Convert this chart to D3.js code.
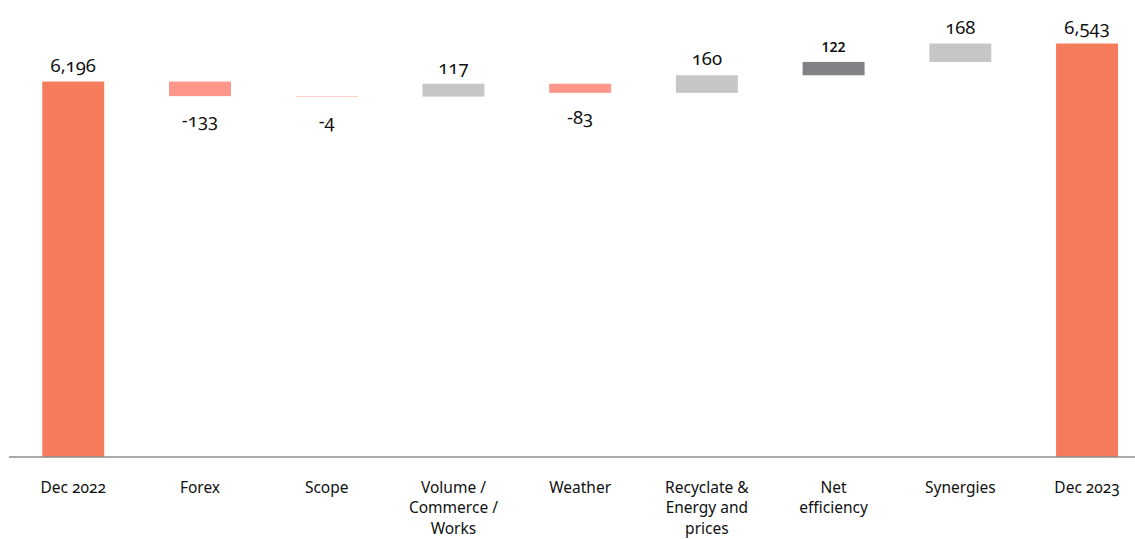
<!DOCTYPE html>
<html>
<head>
<meta charset="utf-8">
<script src="https://cdn.jsdelivr.net/npm/d3@7/dist/d3.min.js"></script>
<style>
  html, body { margin: 0; padding: 0; background: #ffffff; }
  svg { display: block; }
  text { font-family: "Noto Sans", "Open Sans", sans-serif; fill: #111111; }
  .val { font-size: 18.5px; font-variant-numeric: oldstyle-nums; font-feature-settings: "onum" 1; }
  .val.key { font-size: 14px; font-weight: 600; font-variant-numeric: lining-nums; font-feature-settings: "lnum" 1; }
  .cat { font-size: 15.5px; font-variant-numeric: oldstyle-nums; font-feature-settings: "onum" 1; }
</style>
</head>
<body>
<svg id="chart" width="1135" height="539"></svg>
<script>
// Bridge of the year-end figure: opening total, movements, closing total
const categories = ["Dec 2022", "Forex", "Scope", "Volume /\nCommerce /\nWorks", "Weather",
                    "Recyclate &\nEnergy and\nprices", "Net\nefficiency", "Synergies", "Dec 2023"];
const values = [6196, -133, -4, 117, -83, 160, 122, 168, 6543];
const isTotal = [true, false, false, false, false, false, false, false, true];
const highlighted = ["Net\nefficiency"];
const valueLabels = ["6,196", "-133", "-4", "117", "-83", "160", "122", "168", "6,543"];

const colors = { total: "#F47C5C", down: "#FF968C", up: "#C6C6C6", key: "#808285" };

const svg = d3.select("#chart");

// Running totals for each step
let running = 0;
const steps = categories.map((c, i) => {
  let start, end;
  if (isTotal[i]) { start = null; end = values[i]; running = values[i]; }
  else { start = running; end = running + values[i]; running = end; }
  return { cat: c, value: values[i], start, end, total: isTotal[i], label: valueLabels[i],
           key: highlighted.includes(c) };
});

const x = d3.scaleBand()
  .domain(categories)
  .range([9.9, 1150.4])
  .paddingInner(0.511)
  .paddingOuter(0.2555);

const y = d3.scaleLinear().domain([2770, 6940]).range([457, 0]);
const base = y.domain()[0];

const g = svg.append("g");

g.selectAll("rect.bar")
  .data(steps)
  .join("rect")
  .attr("class", "bar")
  .attr("x", d => x(d.cat))
  .attr("width", x.bandwidth())
  .attr("y", d => d.total ? y(d.end) : y(Math.max(d.start, d.end)))
  .attr("height", d => d.total ? y(base) - y(d.end) : Math.abs(y(d.start) - y(d.end)))
  .attr("fill", d => d.total ? colors.total : d.key ? colors.key : d.value < 0 ? colors.down : colors.up);

// Value labels: above rising bars, below falling ones
g.selectAll("text.val")
  .data(steps)
  .join("text")
  .attr("class", d => "val" + (d.key ? " key" : ""))
  .attr("text-anchor", "middle")
  .attr("x", d => x(d.cat) + x.bandwidth() / 2)
  .attr("y", d => {
    if (d.total || d.value >= 0) return y(d.end) - 10;
    return y(d.end) + 31;
  })
  .text(d => d.label);

// Category axis
const axis = d3.axisBottom(x).tickSize(0).tickPadding(0);
const ax = svg.append("g").attr("transform", "translate(0,457)").call(axis);
ax.select(".domain").attr("stroke", "#8c8c8c").attr("stroke-width", 1.5)
  .attr("d", "M9,0H1135");
ax.selectAll(".tick text").remove();
ax.selectAll(".tick").each(function(d) {
  const t = d3.select(this).append("text")
    .attr("class", "cat")
    .attr("text-anchor", "middle")
    .attr("y", 35.5);
  d.split("\n").forEach((line, i) => {
    t.append("tspan").attr("x", 0).attr("dy", i === 0 ? 0 : 20.5).text(line);
  });
});
</script>
</body>
</html>
